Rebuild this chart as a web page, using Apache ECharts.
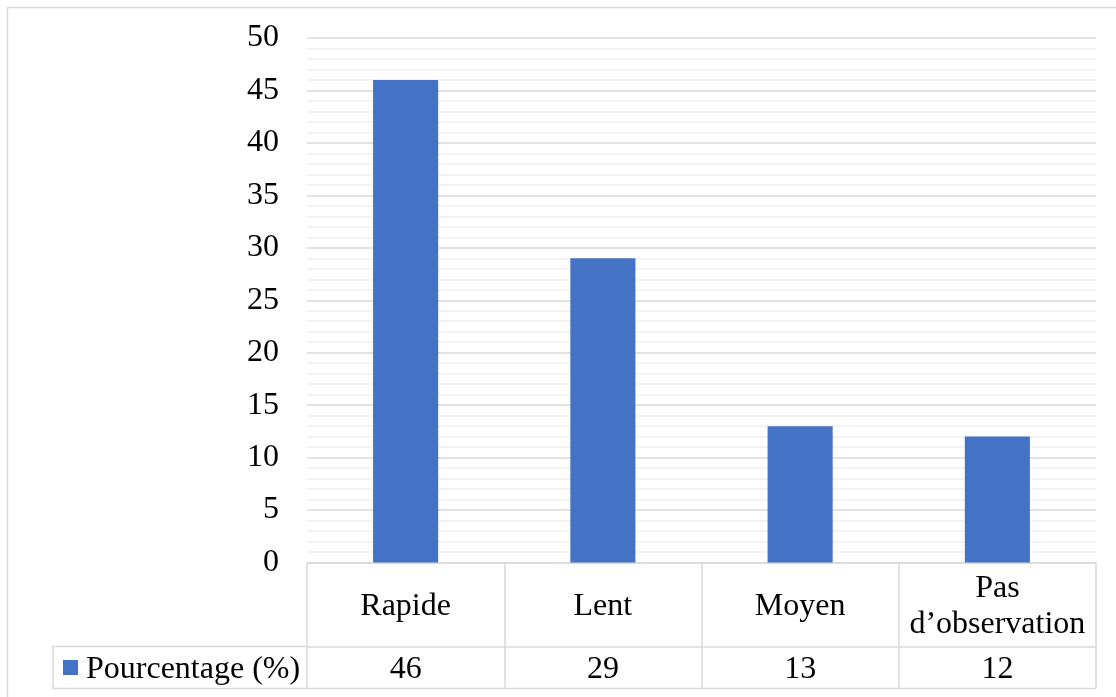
<!DOCTYPE html>
<html>
<head>
<meta charset="utf-8">
<script src="https://cdn.jsdelivr.net/npm/echarts@6/dist/echarts.min.js"></script>
<style>
  html, body { margin: 0; padding: 0; background: #fff; }
  #chart { width: 1116px; height: 697px; }
</style>
</head>
<body>
<div id="chart"></div>
<script>
// Categories and series values
const categories = ['Rapide', 'Lent', 'Moyen', "Pas\nd\u2019observation"];
const seriesName = 'Pourcentage (%)';
const values = [46, 29, 13, 12];
const yTicks = [0, 5, 10, 15, 20, 25, 30, 35, 40, 45, 50];

const FONT = '"Liberation Serif", "Times New Roman", serif';
const FS = 32;
const BAR = '#4472C4';
const LINE = '#d9d9d9';
const TXT = '#000';

const chart = echarts.init(document.getElementById('chart'), null, { renderer: 'canvas' });

const option = {
  animation: false,
  backgroundColor: '#fff',
  grid: { left: 307, right: 20, top: 38, bottom: 134.5, containLabel: false },
  xAxis: [
    {
      type: 'category',
      data: categories,
      axisLine: { show: true, lineStyle: { color: LINE, width: 1.5 } },
      axisTick: { show: true, length: 126, interval: 0, lineStyle: { color: LINE, width: 1.5 } },
      axisLabel: {
        interval: 0, margin: 44, verticalAlign: 'middle', lineHeight: 36,
        fontFamily: FONT, fontSize: FS, color: TXT
      }
    },
    {
      type: 'category',
      position: 'bottom',
      offset: 84,
      data: values.map(v => String(v)),
      axisLine: { show: true, lineStyle: { color: LINE, width: 1.5 } },
      axisTick: { show: false },
      axisLabel: {
        interval: 0, margin: 23, verticalAlign: 'middle',
        fontFamily: FONT, fontSize: FS, color: TXT
      }
    }
  ],
  yAxis: {
    type: 'value',
    min: yTicks[0],
    max: yTicks[yTicks.length - 1],
    interval: 5,
    axisLine: { show: false },
    axisTick: { show: false },
    axisLabel: { margin: 28, padding: [4, 0, 0, 0], fontFamily: FONT, fontSize: FS, color: TXT },
    splitLine: { show: true, lineStyle: { color: LINE, width: 1.5 } },
    minorTick: { show: false, splitNumber: 5 },
    minorSplitLine: { show: true, lineStyle: { color: '#efefef', width: 1.5 } }
  },
  series: [
    {
      name: seriesName,
      type: 'bar',
      xAxisIndex: 0,
      data: values,
      barWidth: '33%',
      itemStyle: { color: BAR },
      z: 3
    }
  ]
};

chart.setOption(option);

// Data table frame and legend key, positioned from the axis scale
const step = chart.convertToPixel({ xAxisIndex: 0 }, 1) - chart.convertToPixel({ xAxisIndex: 0 }, 0);
const xLeft = chart.convertToPixel({ xAxisIndex: 0 }, 0) - step / 2;
const xRight = xLeft + step * categories.length;
const yZero = chart.convertToPixel({ yAxisIndex: 0 }, 0);
const rowTop = yZero + 84;
const rowBottom = yZero + 126;
const legendLeft = 53;

chart.setOption({
  graphic: [
    {
      type: 'rect', silent: true,
      shape: { x: 7.5, y: 7.5, width: 1300, height: 900 },
      style: { fill: null, stroke: LINE, lineWidth: 1.5 }
    },
    {
      type: 'polyline', silent: true,
      shape: { points: [[xLeft, rowTop], [legendLeft, rowTop], [legendLeft, rowBottom], [xRight, rowBottom]] },
      style: { fill: null, stroke: LINE, lineWidth: 1.5 }
    },
    {
      type: 'rect', silent: true,
      shape: { x: 63, y: (rowTop + rowBottom) / 2 - 7.5, width: 15, height: 15 },
      style: { fill: BAR }
    },
    {
      type: 'text', silent: true,
      x: 86, y: (rowTop + rowBottom) / 2 + 2,
      style: {
        text: seriesName, fontFamily: FONT, fontSize: FS, fill: TXT,
        verticalAlign: 'middle', align: 'left'
      }
    }
  ]
});
</script>
</body>
</html>
